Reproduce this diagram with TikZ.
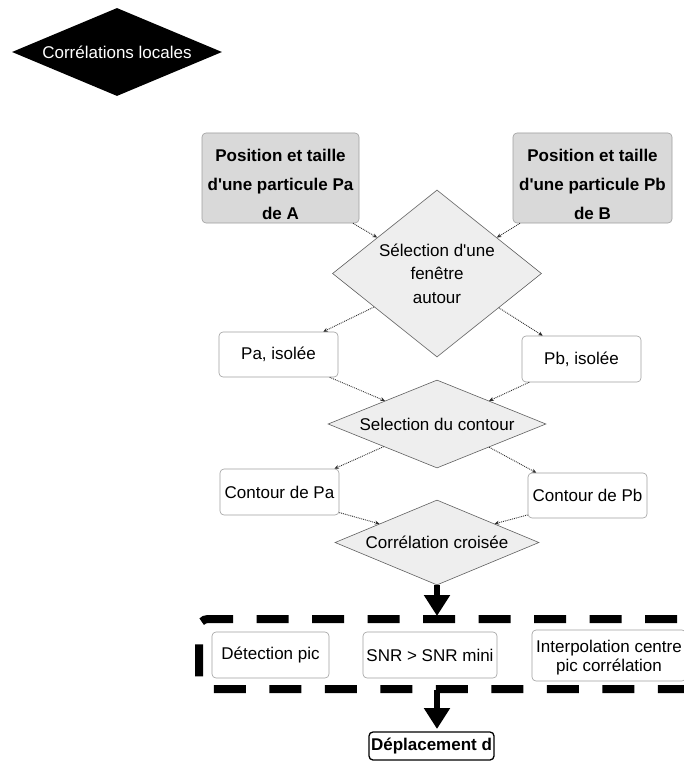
\documentclass[tikz,border=0pt]{standalone}
\usepackage{fontspec}
\setmainfont{Liberation Sans}[Ligatures=TeXOff]
\usetikzlibrary{shapes.geometric,arrows.meta}
\tikzset{
  base/.style={font=\fontsize{17}{20}\selectfont, inner sep=0pt, align=center},
  wbox/.style={base, draw=gray!75, fill=white, rounded corners=4pt, line width=0.6pt},
  gbox/.style={wbox, fill=gray!30, font=\fontsize{17}{29}\selectfont\bfseries},
  dia/.style={base, diamond, draw=gray!75!black, fill=gray!13, line width=0.6pt},
  conn/.style={densely dotted, draw=gray!35!black, line width=0.9pt, -{Stealth[length=4.5pt,width=4pt]}},
  fat/.style={draw=black, line width=6pt, -{Triangle[length=21pt,width=25pt]}},
  frame/.style={draw=black, line width=8pt, dash pattern=on 32pt off 23.5pt, rounded corners=9pt},
}
\begin{document}
\begin{tikzpicture}[x=1pt,y=-1pt]
\useasboundingbox (0,0) rectangle (684,762);
\clip (0,0) rectangle (684,762);
\fill[white] (0,0) rectangle (684,762);

\node[base, diamond, fill=black, text=white, aspect=2.4, minimum width=210pt, minimum height=88pt] (cl) at (117,52) {Corrélations locales};

\node[gbox, minimum width=157pt, minimum height=90pt] (A) at (280.5,178) {\rule{0pt}{26pt}Position et taille\\d'une particule Pa\\de A};
\node[gbox, minimum width=159pt, minimum height=90pt] (B) at (592.5,178) {\rule{0pt}{26pt}Position et taille\\d'une particule Pb\\de B};

\node[dia, aspect=1.25, minimum width=209pt, minimum height=167pt, font=\fontsize{17}{23.5}\selectfont] (sel) at (437,273.5) {Sélection d'une\\fenêtre\\autour};

\node[wbox, minimum width=119pt, minimum height=45pt] (Pa) at (278.5,354.5) {Pa, isolée};
\node[wbox, minimum width=119pt, minimum height=46pt] (Pb) at (581.5,359) {Pb, isolée};

\node[dia, aspect=2.48, minimum width=218pt, minimum height=88pt] (cont) at (437,424) {Selection du contour};

\node[wbox, minimum width=119pt, minimum height=46pt] (CPa) at (279.5,492) {Contour de Pa};
\node[wbox, minimum width=119pt, minimum height=45pt] (CPb) at (587.5,495.5) {Contour de Pb};

\node[dia, aspect=2.4, minimum width=204pt, minimum height=85pt] (corr) at (437,542.5) {Corrélation croisée};

\node[wbox, minimum width=117pt, minimum height=46pt] (det) at (270.5,655) {Détection pic};
\node[wbox, minimum width=134pt, minimum height=46pt] (snr) at (430,655) {SNR > SNR mini};
\node[wbox, minimum width=154pt, minimum height=51pt, font=\fontsize{17}{19}\selectfont] (interp) at (609,655.5) {\rule{0pt}{16pt}Interpolation centre\\pic corrélation};

\node[base, draw=black, line width=1.3pt, rounded corners=4pt, fill=white, font=\fontsize{17}{20}\selectfont\bfseries, minimum width=125pt, minimum height=28pt] (disp) at (431.5,746) {Déplacement d};

% dashed group frame
\draw[frame] (732.5,619) -- (199,619) -- (199,689) -- (740,689);

% thin connectors
\draw[conn] (A.-32) -- (sel.149);
\draw[conn] (B.212) -- (sel.31);
\draw[conn] (sel.208) -- (Pa.27);
\draw[conn] (sel.-29) -- (Pb.149);
\draw[conn] (Pa.-24) -- (cont.156);
\draw[conn] (Pb.204) -- (cont.24);
\draw[conn] (cont.203) -- (CPa.23);
\draw[conn] (cont.-24) -- (CPb.156);
\draw[conn] (CPa.-19) -- (corr.162);
\draw[conn] (CPb.198) -- (corr.18);

% fat arrows
\coordinate (g1) at (437,616);
\coordinate (g2) at (437,690);
\coordinate (g3) at (437,729);
\draw[fat] (corr.south) -- (g1);
\draw[fat] (g2) -- (g3);
\end{tikzpicture}
\end{document}
